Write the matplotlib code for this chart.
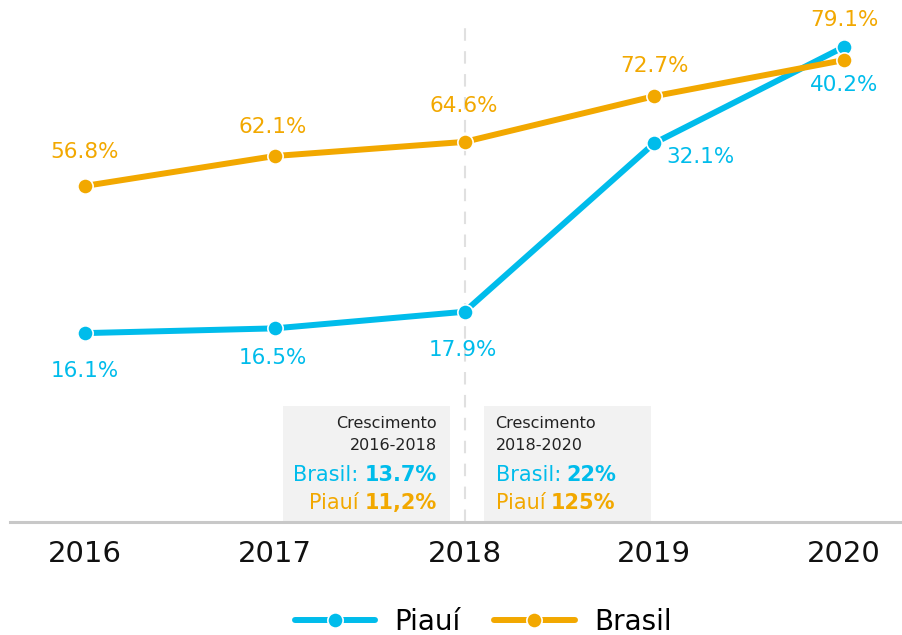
import matplotlib
matplotlib.use('Agg')
import matplotlib.pyplot as plt
import matplotlib.transforms as mtransforms
from matplotlib.lines import Line2D
from matplotlib.patches import Rectangle

years = ['2016', '2017', '2018', '2019', '2020']
piaui = [16.1, 16.5, 17.9, 32.1, 40.2]
brasil = [56.8, 62.1, 64.6, 72.7, 79.1]

cyan = '#00BCEB'
orange = '#F2A800'

plt.rcParams['font.family'] = ['DejaVu Sans']

fig = plt.figure(figsize=(9.03, 6.35), dpi=100)
ax = fig.add_axes([10 / 903, 1 - 522 / 635, 893 / 903, 512 / 635])
ax2 = ax.twinx()

x = list(range(len(years)))

# Piauí on the first axis
ax.plot(x, piaui, color=cyan, linewidth=4.3, marker='o', markersize=11,
        markeredgecolor='white', markeredgewidth=1.2, solid_capstyle='round', zorder=3)
ax.set_ylim(0.2, 43.3)
ax.set_xlim(-0.395, 4.31)

# Brasil on the twin axis
ax2.plot(x, brasil, color=orange, linewidth=4.3, marker='o', markersize=11,
         markeredgecolor='white', markeredgewidth=1.2, solid_capstyle='round', zorder=3)
ax2.set_ylim(-2.72, 87.96)

# dashed line at 2018
ax.axvline(2, ymin=0, ymax=(522 - 25) / 512, color='#e0e0e0', linewidth=1.5,
           dashes=(6, 5), zorder=0)

# labels
p_off = [(0, -38), (-2, -30), (-2, -38), (46, -14), (0, -38)]
for xi, v, off in zip(x, piaui, p_off):
    ax.annotate(f'{v}%', (xi, v), xytext=off, textcoords='offset pixels',
                ha='center', va='center', fontsize=15.5, color=cyan)
b_off = [(0, 34), (-2, 29), (-1, 36), (0, 30), (0, 40)]
for xi, v, off in zip(x, brasil, b_off):
    ax2.annotate(f'{v}%', (xi, v), xytext=off, textcoords='offset pixels',
                 ha='center', va='center', fontsize=15.5, color=orange)

# growth boxes
trans = mtransforms.blended_transform_factory(ax.transData, ax.transAxes)
box_h = (522 - 406) / 512
ax.add_patch(Rectangle((1.042, 0), 0.879, box_h, transform=trans,
                       facecolor='#f2f2f2', edgecolor='none', zorder=1))
ax.add_patch(Rectangle((2.1, 0), 0.884, box_h, transform=trans,
                       facecolor='#f2f2f2', edgecolor='none', zorder=1))

def ypos(py):
    return (522 - py) / 512

# left box, right aligned
xl = (437 - 85) / 190
ax.text(xl, ypos(424), 'Crescimento', transform=trans, ha='right', va='center',
        fontsize=11.5, color='#222222', zorder=4)
ax.text(xl, ypos(446), '2016-2018', transform=trans, ha='right', va='center',
        fontsize=11.5, color='#222222', zorder=4)
t1 = ax.text(xl, ypos(475), '13.7%', transform=trans, ha='right', va='center',
             fontsize=15, fontweight='bold', color=cyan, zorder=4)
ax.annotate('Brasil:', xy=(0, 0.5), xycoords=t1, xytext=(-6, 0),
            textcoords='offset pixels', ha='right', va='center',
            fontsize=15, color=cyan, zorder=4)
t2 = ax.text(xl, ypos(503), '11,2%', transform=trans, ha='right', va='center',
             fontsize=15, fontweight='bold', color=orange, zorder=4)
ax.annotate('Piauí', xy=(0, 0.5), xycoords=t2, xytext=(-6, 0),
            textcoords='offset pixels', ha='right', va='center',
            fontsize=15, color=orange, zorder=4)

# right box, left aligned
xr = (496 - 85) / 190
ax.text(xr, ypos(424), 'Crescimento', transform=trans, ha='left', va='center',
        fontsize=11.5, color='#222222', zorder=4)
ax.text(xr, ypos(446), '2018-2020', transform=trans, ha='left', va='center',
        fontsize=11.5, color='#222222', zorder=4)
t3 = ax.text(xr, ypos(475), 'Brasil:', transform=trans, ha='left', va='center',
             fontsize=15, color=cyan, zorder=4)
ax.annotate('22%', xy=(1, 0.5), xycoords=t3, xytext=(6, 0),
            textcoords='offset pixels', ha='left', va='center',
            fontsize=15, fontweight='bold', color=cyan, zorder=4)
t4 = ax.text(xr, ypos(503), 'Piauí', transform=trans, ha='left', va='center',
             fontsize=15, color=orange, zorder=4)
ax.annotate('125%', xy=(1, 0.5), xycoords=t4, xytext=(6, 0),
            textcoords='offset pixels', ha='left', va='center',
            fontsize=15, fontweight='bold', color=orange, zorder=4)

# axes styling
for a in (ax, ax2):
    for s in ('top', 'right', 'left'):
        a.spines[s].set_visible(False)
    a.set_yticks([])
ax2.spines['bottom'].set_visible(False)
ax.spines['bottom'].set_color('#c8c8c8')
ax.spines['bottom'].set_linewidth(2.2)
ax.set_xticks(x)
ax.set_xticklabels(years, fontsize=21, color='#111111')
ax.tick_params(axis='x', length=0, pad=13)

# legend
handles = [
    Line2D([], [], color=cyan, linewidth=4.3, marker='o', markersize=11,
           markeredgecolor='white', markeredgewidth=1.2, solid_capstyle='round'),
    Line2D([], [], color=orange, linewidth=4.3, marker='o', markersize=11,
           markeredgecolor='white', markeredgewidth=1.2, solid_capstyle='round'),
]
fig.legend(handles, ['Piauí', 'Brasil'], loc='center', bbox_to_anchor=(0.535, 1 - 622 / 635),
           ncol=2, frameon=False, fontsize=20, handlelength=2.9, columnspacing=1.2,
           handletextpad=0.7)

fig.savefig('out.png', dpi=100)
